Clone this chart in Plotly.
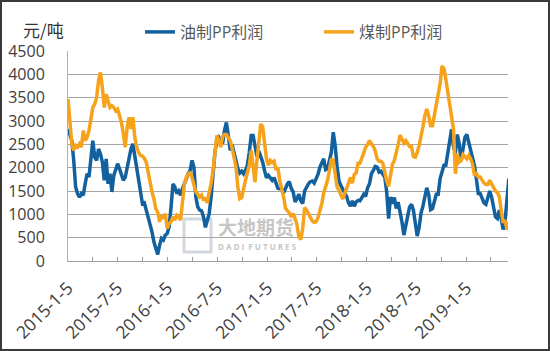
import plotly.graph_objects as go
import pandas as pd

# ---- data (weekly readings, yuan/ton) ----
start_date = "2015-01-05"
oil_pp = [
    2830, 2720, 2580, 2155, 1585, 1445, 1370, 1445, 1410, 1655,
    1870, 1800, 2260, 2580, 2225, 2155, 2400, 2300, 2120, 1730,
    2190, 1655, 1870, 1480, 1835, 1940, 2085, 1975, 1835, 1730,
    1800, 2010, 2190, 2400, 2510, 2260, 1975, 1800, 1550, 1230,
    1245, 1090, 945, 840, 625, 410, 270, 140, 340, 485,
    450, 555, 590, 730, 1160, 1655, 1585, 1445, 1500, 1410,
    1550, 1655, 1785, 1870, 1940, 2155, 2010, 1370, 1160, 1090,
    1075, 945, 720, 840, 1015, 1370, 1870, 2330, 2580,
    2650, 2580, 2510, 2795, 2970, 2690, 2370, 2495, 2280, 2155,
    1975, 1885, 1925, 1870, 1940, 2050, 2330, 2690, 2690, 2405,
    2240, 2355, 2260, 2120, 1940, 1785, 1835, 1785, 1730, 1785,
    1645, 1555, 1550, 1540, 1460, 1585, 1655, 1700, 1555, 1480,
    1265, 1335, 1430, 1290, 1230, 1500, 1585, 1655, 1700, 1715,
    1670, 1770, 1855, 2010, 2085, 2190, 1955, 1975, 2155, 2330,
    2760, 2475, 2025, 1715, 1615, 1550, 1460, 1385, 1245, 1175,
    1290, 1175, 1265, 1300, 1290, 1370, 1430, 1385, 1570, 1655,
    1870, 1940, 2025, 2010, 1905, 1925, 1870, 1800, 1480, 910,
    1370, 1230, 1360, 1125, 1265, 1075, 840, 555, 720, 960,
    1160, 1215, 1090, 730, 535, 720, 1030, 1175, 1410, 1570,
    1430, 1100, 1125, 1290, 1430, 1430, 1765, 1905, 2050,
    2050, 2295, 2650, 2820, 2455, 2310, 2710, 2510, 2155, 2425,
    2650, 2710, 2545, 2400, 2225, 2040, 1755, 1445, 1445, 1360,
    1245, 1215, 1335, 1500, 1370, 1175, 945, 910, 1090, 910,
    675, 840, 1300, 1765, 1600,
]
coal_pp = [
    3470, 2865, 2510, 2370, 2475, 2440, 2510, 2440, 2795, 2580,
    2650, 2795, 3010, 3290, 3360, 3505, 3860, 4040, 3720, 3290,
    3575, 3400, 3290, 3330, 3290, 3220, 3255, 3115, 2970, 2720,
    2440, 2865, 3080, 2830, 3080, 2650, 2440, 2330, 2260, 2250,
    2200, 2120, 1870, 1730, 1480, 1335, 1125, 1050, 840, 980,
    910, 1015, 700, 805, 840, 945, 875, 980, 945, 875,
    1230, 1655, 1800, 1870, 1905, 1785, 1620, 1480, 1430, 1370,
    1410, 1300, 1360, 1245, 1480, 1655, 1940, 2405, 2690,
    2580, 2440, 2665, 2710, 2710, 2650, 2580, 2425, 2210, 2025,
    1585, 1335, 1360, 1585, 1730, 1900, 2050, 2370, 2085, 1690,
    2155, 2510, 2935, 2880, 2440, 2190, 2050, 2155, 2110, 2140,
    1955, 2000, 1715, 1570, 1370, 1125, 1075, 1030, 945, 1015,
    910, 770, 520, 460, 695, 1145, 1090, 1015, 930, 860,
    830, 840, 930, 1075, 1230, 1460, 1600, 1730, 1940, 2190,
    2155, 1855, 1585, 1515, 1410, 1330, 1445, 1570, 1655, 1785,
    1670, 1855, 1885, 2095, 2095, 2225, 2310, 2440, 2495, 2580,
    2510, 2455, 2355, 2190, 2140, 2140, 2095, 1870, 1715, 1600,
    1905, 2070, 2155, 2310, 2495, 2700, 2610, 2525, 2580, 2510,
    2455, 2455, 2240, 2225, 2325, 2475, 2640, 2880, 3115, 3255,
    3115, 2900, 2900, 3135, 3420, 3590, 3800, 4180, 4120,
    3895, 3610, 3330, 3115, 2830, 1870, 2295, 2120, 2155, 2280,
    2225, 2190, 2260, 2190, 2070, 1835, 1870, 1800, 1800, 1715,
    1670, 1640, 1640, 1730, 1655, 1585, 1500, 1470, 1385, 1090,
    820, 875, 675, 770, 1000,
]
dates = pd.date_range(start_date, periods=len(oil_pp), freq="7D")

series_names = ["油制PP利润", "煤制PP利润"]
tick_dates = [
    "2015-01-05", "2015-04-05", "2015-07-05", "2015-10-05",
    "2016-01-05", "2016-04-05", "2016-07-05", "2016-10-05",
    "2017-01-05", "2017-04-05", "2017-07-05", "2017-10-05",
    "2018-01-05", "2018-04-05", "2018-07-05", "2018-10-05",
    "2019-01-05", "2019-04-05",
]
tick_labels = ["2015-1-5", "2015-7-5", "2016-1-5", "2016-7-5", "2017-1-5",
               "2017-7-5", "2018-1-5", "2018-7-5", "2019-1-5"]
tick_text = []
for k in range(len(tick_dates)):
    tick_text.append(tick_labels[k // 2] if k % 2 == 0 else "")
y_ticks = [0, 500, 1000, 1500, 2000, 2500, 3000, 3500, 4000, 4500]

BLUE = "#12619E"
ORANGE = "#F7A21B"

fig = go.Figure()
fig.add_trace(go.Scatter(x=dates, y=oil_pp, name=series_names[0], mode="lines",
                         line=dict(color=BLUE, width=3.5)))
fig.add_trace(go.Scatter(x=dates, y=coal_pp, name=series_names[1], mode="lines",
                         line=dict(color=ORANGE, width=3.5)))

W, H = 550, 351
L, R, T, B = 68, 42, 51, 90
pw, ph = W - L - R, H - T - B


def px_x(p):
    return (p - L) / pw


def px_y(p):
    return (H - B - p) / ph


base_font = "Open Sans, Liberation Sans, sans-serif"
cjk = "Noto Sans CJK SC, sans-serif"

fig.update_layout(
    width=W, height=H,
    margin=dict(l=L, r=R, t=T, b=B, pad=0, autoexpand=False),
    paper_bgcolor="white", plot_bgcolor="white",
    showlegend=True,
    legend=dict(orientation="h", x=px_x(140), y=px_y(32), xanchor="left", yanchor="middle",
                font=dict(family="Open Sans, " + cjk, size=16, color="#595959"),
                entrywidth=134, itemwidth=30, bgcolor="rgba(0,0,0,0)"),
    xaxis=dict(type="date", range=["2015-01-05", "2019-06-07"], automargin=False,
               tickmode="array", tickvals=tick_dates, ticktext=tick_text,
               tickangle=-45, tickfont=dict(family=base_font, size=17.5, color="#404040"),
               ticks="inside", ticklen=4,
               tickcolor="#a0a0a0", showline=True, linecolor="#a0a0a0", linewidth=1,
               showgrid=False, zeroline=False, ticklabelstandoff=9),
    yaxis=dict(range=[0, 4500], tickmode="array", tickvals=y_ticks, automargin=False,
               tickfont=dict(family=base_font, size=16, color="#404040"),
               showline=True, linecolor="#b0b0b0", linewidth=1,
               showgrid=True, gridcolor="#a6a6a6", gridwidth=1, zeroline=False,
               ticks="", ticklabelstandoff=19),
    annotations=[
        dict(text="元/吨", xref="paper", yref="paper", x=px_x(21), y=px_y(30),
             xanchor="left", yanchor="middle", showarrow=False,
             font=dict(family=cjk, size=17, color="#333333")),
    ],
    shapes=[
        # watermark
        dict(type="rect", xref="paper", yref="paper", x0=px_x(184), x1=px_x(211),
             y0=px_y(252), y1=px_y(219), line=dict(color="#d3d7df", width=3),
             fillcolor="rgba(0,0,0,0)", layer="between"),
        dict(type="rect", xref="paper", yref="paper", x0=px_x(216), x1=px_x(296),
             y0=px_y(238), y1=px_y(220), line=dict(width=0), fillcolor="rgba(0,0,0,0)",
             layer="between",
             label=dict(text="大地期货", textposition="middle center",
                        font=dict(family=cjk, size=19, color="#c6c6c6", weight="bold"))),
        dict(type="rect", xref="paper", yref="paper", x0=px_x(216), x1=px_x(298),
             y0=px_y(253), y1=px_y(242), line=dict(width=0), fillcolor="rgba(0,0,0,0)",
             layer="between",
             label=dict(text="D A D I  F U T U R E S", textposition="middle center",
                        font=dict(family="Open Sans, sans-serif", size=8, color="#c6c6c6",
                                  weight="bold"))),
        # outer border
        dict(type="rect", xref="paper", yref="paper", x0=px_x(1), x1=px_x(W - 1),
             y0=px_y(H - 1), y1=px_y(1), line=dict(color="#3a3a3a", width=2),
             fillcolor="rgba(0,0,0,0)", layer="above"),
    ],
)

fig.write_html("out.html")
